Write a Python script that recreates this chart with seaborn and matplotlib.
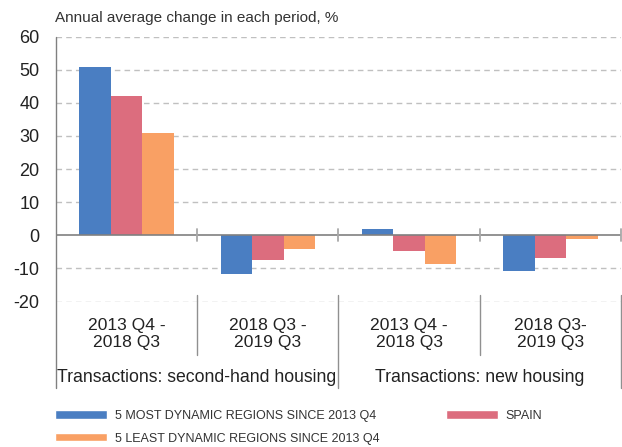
import pandas as pd
import seaborn as sns
import matplotlib.pyplot as plt
from matplotlib.patches import Patch

# data
periods = ["sh_1", "sh_2", "nh_1", "nh_2"]
period_labels = ["2013 Q4 -\n2018 Q3", "2018 Q3 -\n2019 Q3", "2013 Q4 -\n2018 Q3", "2018 Q3-\n2019 Q3"]
group_labels = ["Transactions: second-hand housing", "Transactions: new housing"]
series = ["5 MOST DYNAMIC REGIONS SINCE 2013 Q4", "SPAIN", "5 LEAST DYNAMIC REGIONS SINCE 2013 Q4"]
most_dynamic = [50.7, -11.8, 1.8, -10.9]
spain = [42.1, -7.5, -4.6, -6.8]
least_dynamic = [30.8, -4.1, -8.7, -1.1]
colors = ["#4a7ec2", "#dc6d7e", "#f9a064"]

df = pd.DataFrame({
    "period": periods * 3,
    "series": [series[0]] * 4 + [series[1]] * 4 + [series[2]] * 4,
    "value": most_dynamic + spain + least_dynamic,
})

sns.set_theme(style="white")
plt.rcParams["font.family"] = ["Liberation Sans", "DejaVu Sans"]
plt.rcParams["axes.unicode_minus"] = False
txt = "#222222"
line_grey = "#808080"

fig = plt.figure(figsize=(6.22, 4.47), dpi=100)
ax = fig.add_axes([55.7 / 622, 1 - 301.5 / 447, (621.3 - 55.7) / 622, (301.5 - 36.7) / 447])

sns.barplot(data=df, x="period", y="value", hue="series", order=periods, hue_order=series,
            palette=colors, width=0.667, gap=0, saturation=1, linewidth=0, legend=False, ax=ax)

ax.set_xlim(-0.5, 3.5)
ax.set_ylim(-20, 60)
ax.set_yticks(range(-20, 61, 10))
ax.tick_params(axis="y", labelsize=13, colors=txt, length=0, pad=11.5)
ax.set_xticks([])
ax.set_xlabel("")
ax.set_ylabel("")
for s in ["top", "right", "bottom", "left"]:
    ax.spines[s].set_visible(False)

# dashed grid, solid zero line
for y in range(-20, 61, 10):
    if y == 0:
        continue
    ax.axhline(y, color="#c0c0c0", lw=1, ls=(0, (4, 3)), zorder=0)
ax.axhline(0, color=line_grey, lw=1.2, zorder=3)

# left spine extended down through the label area
ax.plot([-0.5, -0.5], [60, -46.1], color=line_grey, lw=1, clip_on=False, zorder=4)

# ticks on the zero line at period boundaries
for xb in [0.5, 1.5, 2.5, 3.5]:
    ax.plot([xb, xb], [1.8, -1.8], color="#a8a8a8", lw=1.3, clip_on=False, zorder=4)

# separators in the label area
for xb in [0.5, 2.5]:
    ax.plot([xb, xb], [-18, -36.2], color="#909090", lw=1, clip_on=False)
for xb in [1.5, 3.5]:
    ax.plot([xb, xb], [-18, -46.1], color="#909090", lw=1, clip_on=False)

# period labels
for i, lab in enumerate(period_labels):
    ax.text(i, -29.8, lab, ha="center", va="center", fontsize=12.6, color=txt,
            linespacing=1.2, clip_on=False)

# group labels
for i, lab in enumerate(group_labels):
    ax.text(0.5 + 2 * i, -43, lab, ha="center", va="center", fontsize=12.7, color=txt,
            clip_on=False)

fig.text(55 / 622, 1 - 18 / 447, "Annual average change in each period, %", ha="left",
         va="center", fontsize=11, color="#333333")

handles = [Patch(facecolor=colors[0], label=series[0]),
           Patch(facecolor=colors[2], label=series[2]),
           Patch(facecolor=colors[1], label=series[1])]
leg = fig.legend(handles=handles, ncol=2, loc="upper left", bbox_to_anchor=(55 / 622, 1 - 410 / 447),
                 frameon=False, borderpad=0, borderaxespad=0,
                 handlelength=4.16, handleheight=0.64, handletextpad=0.64,
                 columnspacing=5.3, labelspacing=0.85,
                 prop={"family": ["Liberation Sans"], "size": 9})
for t in leg.get_texts():
    t.set_color("#333333")

fig.savefig("out.png", dpi=100)
